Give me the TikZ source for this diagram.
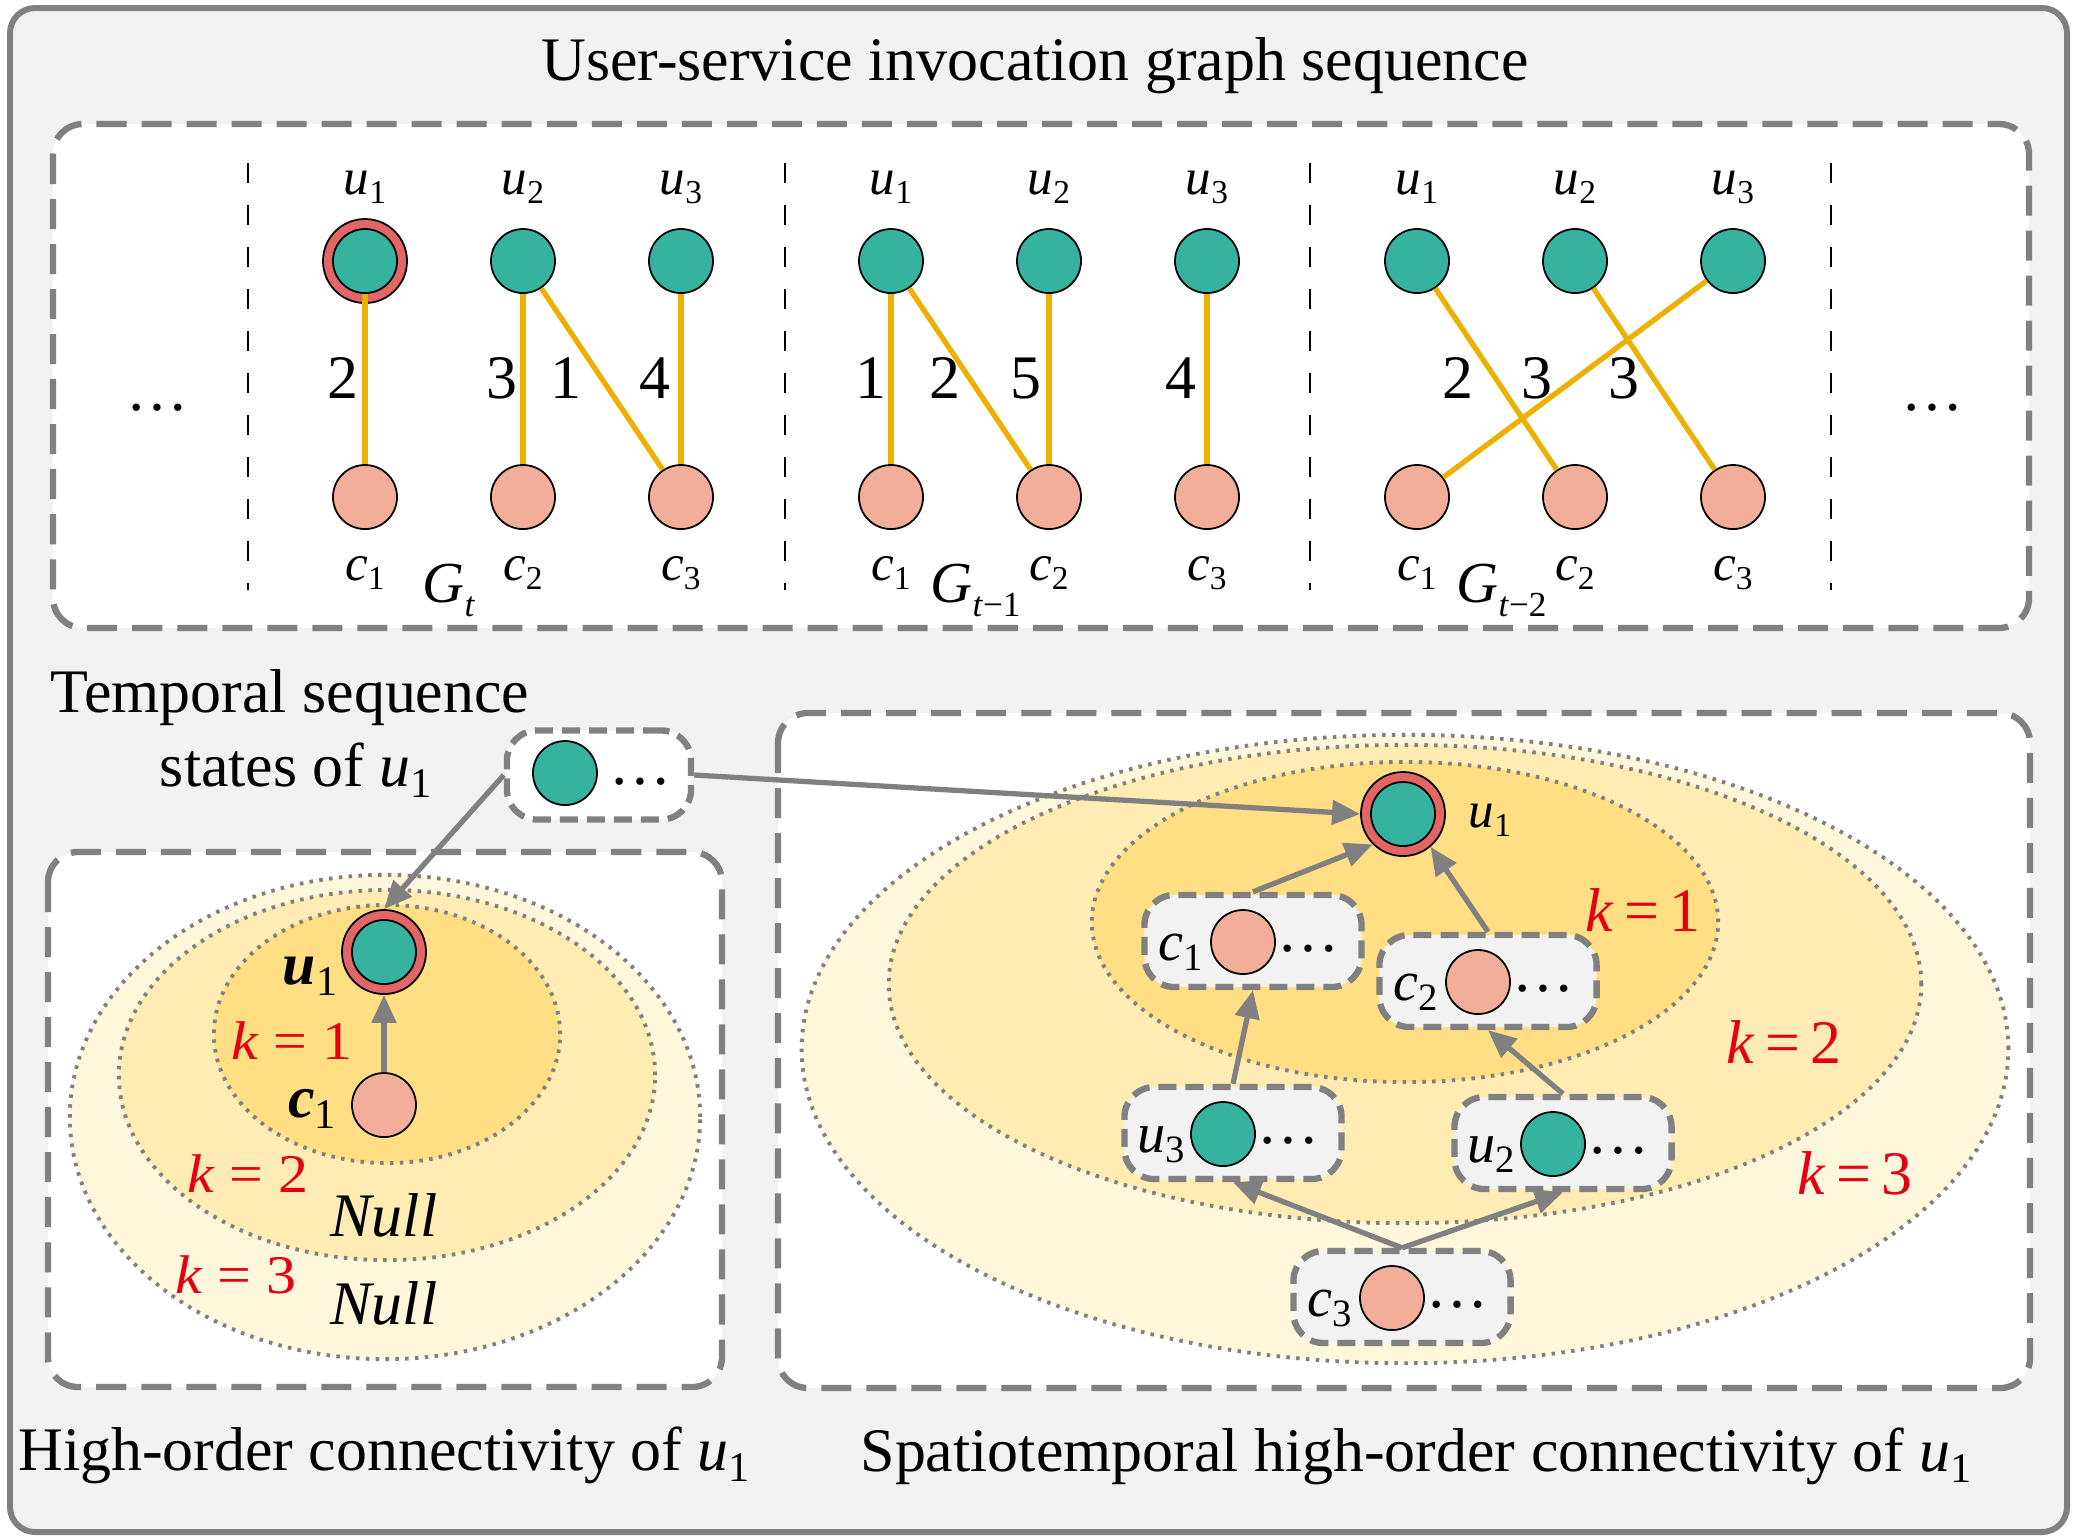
\documentclass[tikz,border=0pt]{standalone}
\usepackage{fontspec}
\setmainfont{Liberation Serif}
\usepackage{graphicx}
\usetikzlibrary{arrows.meta}
\usetikzlibrary{positioning}
\usetikzlibrary{calc}

\definecolor{tealc}{RGB}{53,179,159}
\definecolor{salmonc}{RGB}{242,174,152}
\definecolor{ringc}{RGB}{226,102,102}
\definecolor{goldc}{RGB}{235,176,0}
\definecolor{grayc}{RGB}{128,128,128}
\definecolor{bgc}{RGB}{242,242,242}
\definecolor{ylwa}{RGB}{255,222,132}
\definecolor{ylwb}{RGB}{255,236,178}
\definecolor{ylwc}{RGB}{255,247,220}
\definecolor{redc}{RGB}{228,0,18}

% italic letter with a lowered index
\newcommand{\vsub}[3]{\textit{#1}\raisebox{-0.4ex}{\fontsize{#3}{#3}\selectfont #2}}
\newcommand{\gsub}[1]{\textit{G}\raisebox{-0.55ex}{\fontsize{10}{10}\selectfont #1}}
\newcommand{\kwide}[1]{\scalebox{1.1}[1]{\textit{k} = #1}}

\begin{document}
\begin{tikzpicture}[x=0.01cm, y=-0.01cm,
    unode/.style={circle, draw=black, line width=0.5pt, fill=tealc, minimum size=0.64cm, inner sep=0pt},
    cnode/.style={circle, draw=black, line width=0.5pt, fill=salmonc, minimum size=0.64cm, inner sep=0pt},
    ringnode/.style={circle, draw=black, line width=0.5pt, fill=ringc, minimum size=0.84cm, inner sep=0pt},
    link/.style={draw=goldc, line width=1.5pt},
    divider/.style={draw=black, line width=0.8pt, dash pattern=on 0.2cm off 0.22cm},
    panel/.style={draw=grayc, fill=white, line width=1.8pt, dash pattern=on 0.3cm off 0.15cm, rounded corners=0.3cm},
    pill/.style={draw=grayc, fill=bgc, line width=1.8pt, dash pattern=on 0.18cm off 0.09cm, rounded corners=0.3cm,
      minimum width=2.17cm, minimum height=0.92cm, inner sep=0pt},
    zone/.style={draw=grayc, line width=1.1pt, dash pattern=on 1pt off 1.8pt},
    arr/.style={draw=grayc, line width=1.5pt, -{Triangle[length=0.28cm, width=0.24cm]}},
    txt/.style={font=\fontsize{17.6}{20}\selectfont, inner sep=0pt},
    lab/.style={font=\fontsize{14.5}{16}\selectfont, inner sep=0pt},
    redk/.style={text=redc, inner sep=0pt}]

  \useasboundingbox (0,0) rectangle (2079,1538);
  \draw[draw=grayc, fill=bgc, line width=1.7pt, rounded corners=0.25cm] (10,8) rectangle (2067,1532);

  \node[txt, anchor=base] (title) at (1035,80) {User-service invocation graph sequence};

  % graph sequence
  \draw[panel] (53,124) rectangle (2029,628);

  \foreach \sx [count=\k] in {248,785,1310,1831} {
    \coordinate (st\k) at (\sx,163);
    \coordinate (sb\k) at (\sx,590);
    \draw[divider] (st\k) -- (sb\k);
  }

  \node[txt, anchor=base] (dotsl) at (157,410) {…};
  \node[txt, anchor=base] (dotsr) at (1932,410) {…};

  \node[ringnode] (hl) at (365,261) {};

  \foreach \g/\gx in {0/365, 1/891, 2/1417} {
    \foreach \i in {1,2,3} {
      \pgfmathsetmacro\nx{\gx+158*(\i-1)}
      \node[unode] (u\g\i) at (\nx,261) {};
      \node[cnode] (c\g\i) at (\nx,497) {};
      \node[lab, anchor=base] (lu\g\i) at (\nx,194) {\vsub{u}{\i}{9.5}};
      \node[lab, anchor=base] (lc\g\i) at (\nx,580) {\vsub{c}{\i}{9.5}};
    }
  }

  \foreach \a/\b in {01/01, 02/02, 02/03, 03/03, 11/11, 11/12, 12/12, 13/13, 21/22, 22/23, 23/21}
    \draw[link] (u\a) -- (c\b);

  \foreach \w/\wx [count=\k] in {2/343, 3/502, 1/566, 4/655, 1/871, 2/945, 5/1026, 4/1181, 2/1458, 3/1537, 3/1624}
    \node[txt, anchor=base] (w\k) at (\wx,398) {\w};

  \node[anchor=base west, font=\fontsize{16.5}{18}\selectfont, inner sep=0pt] (g0) at (422,602) {\gsub{\textit{t}}};
  \node[anchor=base west, font=\fontsize{16.5}{18}\selectfont, inner sep=0pt] (g1) at (930,602) {\gsub{\textit{t}−1}};
  \node[anchor=base west, font=\fontsize{16.5}{18}\selectfont, inner sep=0pt] (g2) at (1456,602) {\gsub{\textit{t}−2}};

  % temporal states
  \node[txt, anchor=base] (tseq) at (290,712) {Temporal sequence};
  \node[txt, anchor=base] (tstate) at (296,786) {states of \vsub{u}{1}{12}};
  \node[pill, fill=white, minimum width=1.84cm, minimum height=0.89cm] (state) at (599,775) {};
  \node[unode] (su) at ($(state)+(-34,-2)$) {};
  \node[txt, anchor=base] (sdots) at ($(state)+(41,9)$) {…};

  % left panel
  \draw[panel] (48,852) rectangle (722,1387);
  \draw[zone, fill=ylwc] (385,1117) ellipse [x radius=3.15cm, y radius=2.42cm];
  \draw[zone, fill=ylwb] (387,1075) ellipse [x radius=2.68cm, y radius=1.85cm];
  \draw[zone, fill=ylwa] (387,1034) ellipse [x radius=1.73cm, y radius=1.29cm];

  \node[ringnode] (lu1r) at (384,952) {};
  \node[unode] (lu1) at (384,952) {};
  \node[cnode] (lc1) at (384,1105) {};
  \node[anchor=base, inner sep=0pt, font=\fontsize{17}{18}\selectfont] (llu) at (310,984) {\textbf{\textit{u}}\raisebox{-0.4ex}{\fontsize{12}{12}\selectfont 1}};
  \node[anchor=base, inner sep=0pt, font=\fontsize{17}{18}\selectfont] (llc) at (312,1117) {\textbf{\textit{c}}\raisebox{-0.4ex}{\fontsize{12}{12}\selectfont 1}};
  \node[redk, anchor=base, font=\fontsize{15.5}{16}\selectfont] (lk1) at (292,1059) {\kwide{1}};
  \node[redk, anchor=base, font=\fontsize{15.5}{16}\selectfont] (lk2) at (248,1192) {\kwide{2}};
  \node[redk, anchor=base, font=\fontsize{15.5}{16}\selectfont] (lk3) at (236,1293) {\kwide{3}};
  \node[txt, anchor=base] (null1) at (384,1236) {\textit{Null}};
  \node[txt, anchor=base] (null2) at (384,1324) {\textit{Null}};

  \node[txt, anchor=base] (capl) at (384,1470) {High-order connectivity of \vsub{u}{1}{12}};

  % right panel
  \draw[panel] (778,713) rectangle (2030,1388);
  \draw[zone, fill=ylwc] (1405,1049) ellipse [x radius=6.03cm, y radius=3.14cm];
  \draw[zone, fill=ylwb] (1405,984) ellipse [x radius=5.16cm, y radius=2.39cm];
  \draw[zone, fill=ylwa] (1405,922) ellipse [x radius=3.13cm, y radius=1.60cm];

  \node[ringnode] (ru1r) at (1403,814) {};
  \node[unode] (ru1) at (1403,814) {};
  \node[lab, anchor=base] (rlu) at (1490,827) {\vsub{u}{1}{9.5}};

  \foreach \n/\l/\t/\s/\px/\py in {c1/c/1/cnode/1253/941, c2/c/2/cnode/1488/981, u3/u/3/unode/1233/1133,
      u2/u/2/unode/1563/1143, c3/c/3/cnode/1402/1297} {
    \node[pill] (p\n) at (\px,\py) {};
    \node[anchor=base, inner sep=0pt, font=\fontsize{16}{18}\selectfont] (p\n-l) at ($(p\n)+(-72,19)$) {\vsub{\l}{\t}{11}};
    \node[\s] (p\n-d) at ($(p\n)+(-10,1)$) {};
    \node[txt, anchor=base] (p\n-e) at ($(p\n)+(55,10)$) {…};
  }

  \node[redk, anchor=base, font=\fontsize{17.6}{20}\selectfont] (rk1) at (1643,931) {\textit{k}\,=\,1};
  \node[redk, anchor=base, font=\fontsize{17.6}{20}\selectfont] (rk2) at (1784,1063) {\textit{k}\,=\,2};
  \node[redk, anchor=base, font=\fontsize{17.6}{20}\selectfont] (rk3) at (1855,1194) {\textit{k}\,=\,3};

  \node[txt, anchor=base] (capr) at (1416,1471) {Spatiotemporal high-order connectivity of \vsub{u}{1}{12}};

  % arrows
  \draw[arr] (state.west) -- (lu1r.north);
  \draw[arr] (state.east) -- (ru1r.west);
  \draw[arr] (lc1) -- (lu1r);
  \draw[arr] (pc1.north) -- (ru1r.225);
  \draw[arr] (pc2.north) -- (ru1r.-50);
  \draw[arr] (pu3.north) -- (pc1.south);
  \draw[arr] (pu2.north) -- (pc2.south);
  \draw[arr] (pc3.north) -- (pu3.south);
  \draw[arr] (pc3.north) -- (pu2.south);
\end{tikzpicture}
\end{document}
